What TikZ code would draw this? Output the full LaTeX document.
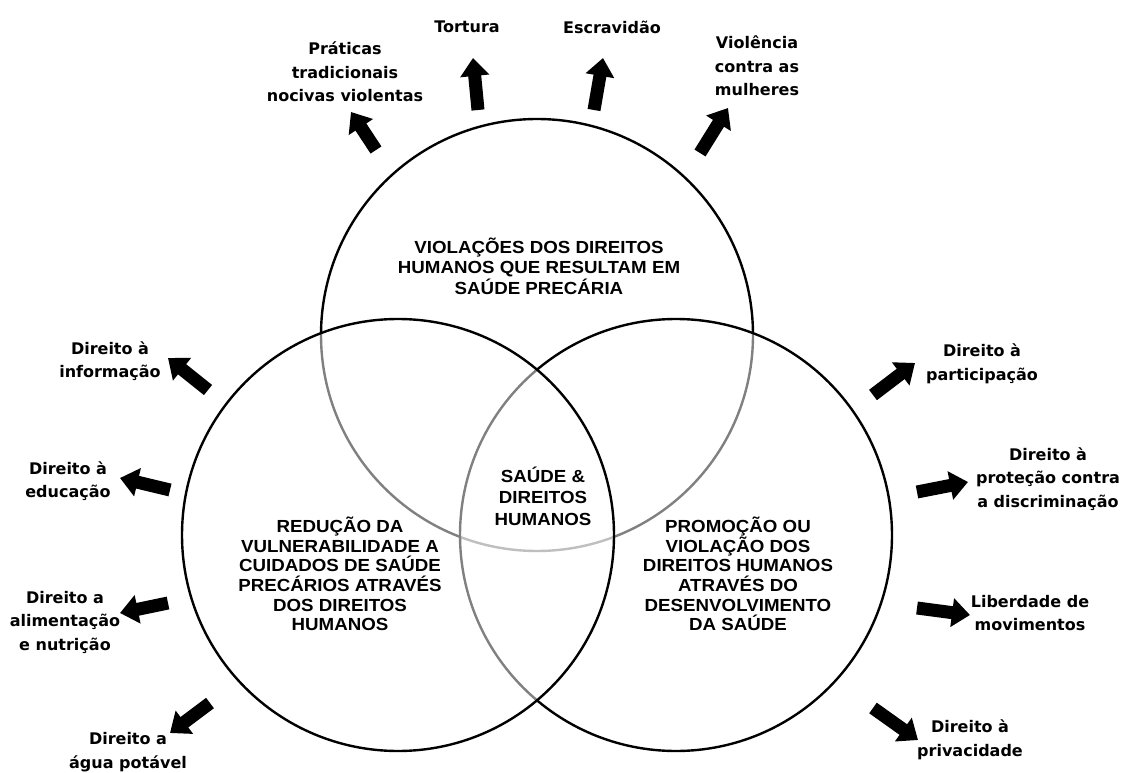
\documentclass[tikz,border=0pt]{standalone}
\usepackage{fontspec}
\setmainfont{DejaVu Sans}
\newfontfamily\capsfont[FakeStretch=1.07]{Liberation Sans}
\usetikzlibrary{arrows.meta}

\begin{document}
\begin{tikzpicture}[x=1pt,y=-1pt,
  ring/.style={line width=2.4pt, draw=black},
  wash/.style={ring, fill=white, fill opacity=0.5},
  outlabel/.style={align=center, inner sep=0pt,
    font=\fontsize{16}{23.5}\selectfont\bfseries},
  zonetext/.style={align=center, inner sep=0pt,
    font=\capsfont\bfseries\fontsize{17.5}{19.6}\selectfont},
  blockarrow/.style={line width=13pt, draw=black,
    -{Triangle[width=28pt,length=18pt]}}
]
\useasboundingbox (0,0) rectangle (1125,773);

% circle centres
\coordinate (cT) at (537,335);
\coordinate (cL) at (398,535);
\coordinate (cR) at (676,535);

% three overlapping circles; the later ones veil the earlier outlines
\draw[ring] (cT) circle[radius=216];
\draw[wash] (cR) circle[radius=216];
\draw[wash] (cL) circle[radius=216];

% zone texts
\node[zonetext, font=\capsfont\bfseries\fontsize{17.5}{20.5}\selectfont] (zTop) at (539,266)
  {VIOLAÇÕES DOS DIREITOS\\HUMANOS QUE RESULTAM EM\\SAÚDE PRECÁRIA};
\node[zonetext, font=\capsfont\bfseries\fontsize{17.5}{21.5}\selectfont] (zMid) at (543,496)
  {SAÚDE \&\\DIREITOS\\HUMANOS};
\node[zonetext] (zLeft) at (340,574)
  {REDUÇÃO DA\\VULNERABILIDADE A\\CUIDADOS DE SAÚDE\\PRECÁRIOS ATRAVÉS\\DOS DIREITOS\\HUMANOS};
\node[zonetext] (zRight) at (738,574)
  {PROMOÇÃO OU\\VIOLAÇÃO DOS\\DIREITOS HUMANOS\\ATRAVÉS DO\\DESENVOLVIMENTO\\DA SAÚDE};

% outer labels
\node[outlabel] (lPrat) at (345,72) {Práticas\\tradicionais\\nocivas violentas};
\node[outlabel] (lTort) at (467,27) {Tortura};
\node[outlabel] (lEscr) at (612,27) {Escravidão};
\node[outlabel] (lViol) at (757,66) {Violência\\contra as\\mulheres};
\node[outlabel] (lInfo) at (110,361) {Direito à\\informação};
\node[outlabel] (lEduc) at (68,481) {Direito à\\educação};
\node[outlabel] (lAlim) at (65,622) {Direito a\\alimentação\\e nutrição};
\node[outlabel] (lAgua) at (128,752) {Direito a\\água potável};
\node[outlabel] (lPart) at (982,364) {Direito à\\participação};
\node[outlabel] (lDisc) at (1048,479) {Direito à\\proteção contra\\a discriminação};
\node[outlabel] (lMovi) at (1030,613) {Liberdade de\\movimentos};
\node[outlabel] (lPriv) at (970,740) {Direito à\\privacidade};

% arrow ends: tail near the circle, head towards the label
\coordinate (sPrat) at (376,150); \coordinate (ePrat) at (351,112);
\coordinate (sTort) at (478,110); \coordinate (eTort) at (473,58);
\coordinate (sEscr) at (594,110); \coordinate (eEscr) at (603,58);
\coordinate (sViol) at (700,153); \coordinate (eViol) at (728,108);
\coordinate (sInfo) at (208,390); \coordinate (eInfo) at (168,358);
\coordinate (sEduc) at (170,490); \coordinate (eEduc) at (120,478);
\coordinate (sAlim) at (168,603); \coordinate (eAlim) at (120,613);
\coordinate (sAgua) at (210,703); \coordinate (eAgua) at (170,733);
\coordinate (sPart) at (873,395); \coordinate (ePart) at (915,363);
\coordinate (sDisc) at (917,492); \coordinate (eDisc) at (968,482);
\coordinate (sMovi) at (917,608); \coordinate (eMovi) at (970,615);
\coordinate (sPriv) at (873,708); \coordinate (ePriv) at (918,740);

\foreach \k in {Prat,Tort,Escr,Viol,Info,Educ,Alim,Agua,Part,Disc,Movi,Priv}
  \draw[blockarrow] (s\k) -- (e\k);
\end{tikzpicture}
\end{document}
